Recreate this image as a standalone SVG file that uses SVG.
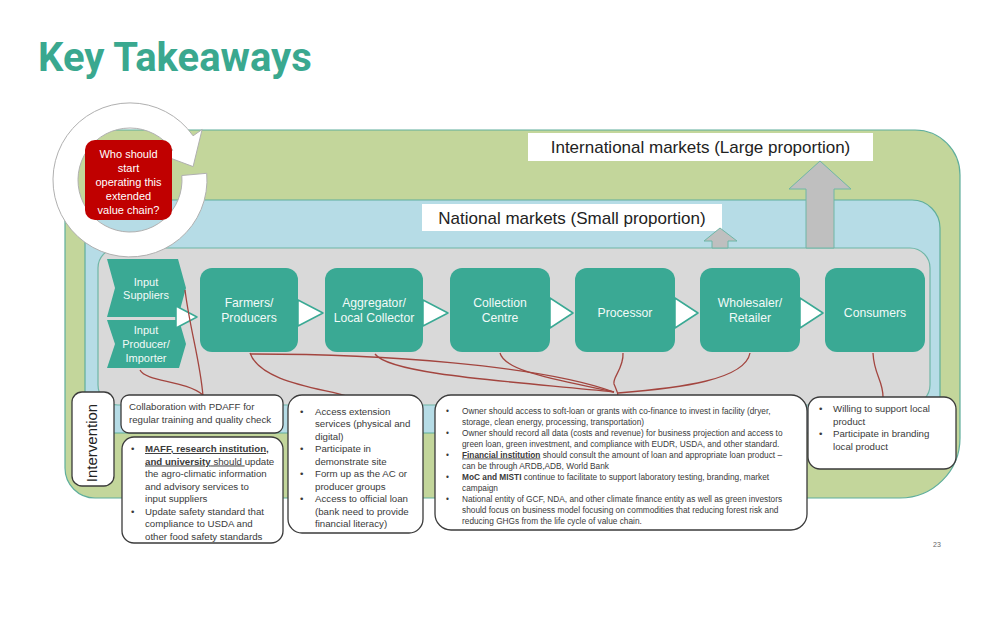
<svg xmlns="http://www.w3.org/2000/svg" width="998" height="619" viewBox="0 0 998 619">
<defs>
<style>
.title{font-family:Roboto,"Liberation Sans",sans-serif;font-weight:700;font-size:40px;fill:#3aa88f}
.node rect,.node polygon{fill:#3aa994}
.nt{font-family:"Liberation Sans",Arial,sans-serif;font-size:12.2px;fill:#f2faf8;text-anchor:middle}
.ct{font-family:"Liberation Sans",Arial,sans-serif;font-size:11px;fill:#f2faf8;text-anchor:middle}
.tri{fill:#ffffff;stroke:#3aa994;stroke-width:1.5;stroke-linejoin:round}
.box{fill:#ffffff;stroke:#3b3b3b;stroke-width:1.3}
.bt{font-family:"Liberation Sans",Arial,sans-serif;font-size:9.7px;fill:#3a3a3a}
.st{font-family:"Liberation Sans",Arial,sans-serif;font-size:8.3px;fill:#3a3a3a}
.lbl{font-family:"Liberation Sans",Arial,sans-serif;font-size:17px;fill:#222;text-anchor:middle}
.conn path{fill:none;stroke:#a3453f;stroke-width:1.3}
.garrow{fill:#bfbfbf;stroke:#6fb6a6;stroke-width:1}
.b{font-weight:700}
.u{text-decoration:underline}
</style>
</defs>
<rect width="998" height="619" fill="#ffffff"/>
<text class="title" x="38" y="71">Key Takeaways</text>

<g id="containers">
<path d="M95,130 H915 A45,45 0 0 1 960,175 V438 A60,60 0 0 1 900,498 H95 A30,30 0 0 1 65,468 V160 A30,30 0 0 1 95,130 Z" fill="#c3d69b" stroke="#5fae9c" stroke-width="1.2"/>
<rect x="85" y="200" width="855" height="233" rx="28" fill="#b6dce6" stroke="#5fae9c" stroke-width="1.2"/>
<rect x="98" y="248" width="832" height="157" rx="20" fill="#d9d9d9" stroke="#6fb6a6" stroke-width="1.2"/>
</g>

<g id="international-label">
<rect x="528" y="133" width="345" height="28" fill="#ffffff"/>
<text class="lbl" x="700.5" y="153">International markets (Large proportion)</text>
</g>
<g id="national-label">
<rect x="422" y="204" width="300" height="27" fill="#ffffff"/>
<text class="lbl" x="572" y="223.5">National markets (Small proportion)</text>
</g>
<g id="market-arrows">
<polygon class="garrow" points="806,248 806,189 789,189 820,161 851,189 834,189 834,248"/>
<polygon class="garrow" points="712,248 712,241 704,241 720,228 737,241 728,241 728,248"/>
</g>

<g id="cycle">
<path d="M206.7,173.3 A77,77 0 1 1 193.1,135.8 L202.1,129.5 L193.1,166.6 L164.4,155.9 L172.6,150.2 A52,52 0 1 0 181.8,175.5 Z" fill="#ffffff" stroke="#b0b0b0" stroke-width="1"/>
</g>
<g id="question">
<rect x="85" y="140" width="87" height="80" rx="10" fill="#c00000"/>
<g font-family="Liberation Sans, Arial, sans-serif" font-size="11" fill="#ffffff" text-anchor="middle">
<text x="128.5" y="158">Who should</text>
<text x="128.5" y="172">start</text>
<text x="128.5" y="186">operating this</text>
<text x="128.5" y="200">extended</text>
<text x="128.5" y="214">value chain?</text>
</g>
</g>

<g id="input-suppliers" class="node">
<polygon points="107,259 178,259 186,288 178,317 107,317 115,288"/>
<text class="ct" x="146" y="286">Input</text>
<text class="ct" x="146" y="299">Suppliers</text>
</g>
<g id="input-producer" class="node">
<polygon points="107,320 179,320 186,344 179,368 107,368 115,344"/>
<text class="ct" x="146" y="334">Input</text>
<text class="ct" x="146" y="348">Producer/</text>
<text class="ct" x="146" y="362">Importer</text>
</g>
<g id="farmers" class="node">
<rect x="200" y="268" width="98" height="84" rx="12"/>
<text class="nt" x="249" y="307">Farmers/</text>
<text class="nt" x="249" y="322">Producers</text>
</g>
<g id="aggregator" class="node">
<rect x="325" y="268" width="98" height="84" rx="12"/>
<text class="nt" x="374" y="307">Aggregator/</text>
<text class="nt" x="374" y="322">Local Collector</text>
</g>
<g id="collection" class="node">
<rect x="450" y="268" width="100" height="84" rx="12"/>
<text class="nt" x="500" y="307">Collection</text>
<text class="nt" x="500" y="322">Centre</text>
</g>
<g id="processor" class="node">
<rect x="575" y="268" width="100" height="84" rx="12"/>
<text class="nt" x="625" y="317">Processor</text>
</g>
<g id="wholesaler" class="node">
<rect x="700" y="268" width="100" height="84" rx="12"/>
<text class="nt" x="750" y="307">Wholesaler/</text>
<text class="nt" x="750" y="322">Retailer</text>
</g>
<g id="consumers" class="node">
<rect x="825" y="268" width="100" height="84" rx="12"/>
<text class="nt" x="875" y="317">Consumers</text>
</g>

<g id="chain-arrows">
<polygon class="tri" points="176,306 197,317 176,328"/>
<polygon class="tri" points="298,300 323,313 298,326"/>
<polygon class="tri" points="423,300 448,313 423,326"/>
<polygon class="tri" points="550,298 573,313 550,328"/>
<polygon class="tri" points="675,298 698,313 675,328"/>
<polygon class="tri" points="800,298 823,313 800,328"/>
</g>

<g id="connectors" class="conn">
<path d="M185,290 C190,330 200,360 203,396"/>
<path d="M140,370 C146,382 185,380 203,395"/>
<path d="M250,353 C260,382 320,388 347,396"/>
<path d="M250,354 C380,354 540,365 614,392"/>
<path d="M375,354 C390,375 520,382 614,392"/>
<path d="M500,353 C505,372 560,380 614,392"/>
<path d="M623,353 C624,368 612,378 614,384 C616,389 618,392 618,396"/>
<path d="M750,353 C745,380 680,388 618,393"/>
<path d="M873,353 C874,375 883,380 883,397"/>
</g>

<g id="intervention">
<rect class="box" x="72" y="392" width="42" height="94" rx="10"/>
<text x="0" y="0" transform="translate(96.5,443) rotate(-90)" font-family="Liberation Sans, Arial, sans-serif" font-size="15" fill="#222" text-anchor="middle">Intervention</text>
</g>

<g id="box-pdaff">
<rect class="box" x="121" y="395" width="162" height="38" rx="8"/>
<text class="bt" x="129" y="410">Collaboration with PDAFF for</text>
<text class="bt" x="129" y="422.5">regular training and quality check</text>
</g>

<g id="box-maff">
<rect class="box" x="122" y="437" width="161" height="106" rx="12"/>
<text class="bt" x="131" y="452">•</text>
<text class="bt" x="145" y="452"><tspan class="b u">MAFF, research institution,</tspan></text>
<text class="bt" x="145" y="464.5"><tspan class="b u">and university</tspan><tspan class="u"> should </tspan>update</text>
<text class="bt" x="145" y="477">the agro-climatic information</text>
<text class="bt" x="145" y="489.5">and advisory services to</text>
<text class="bt" x="145" y="502">input suppliers</text>
<text class="bt" x="131" y="514.5">•</text>
<text class="bt" x="145" y="514.5">Update safety standard that</text>
<text class="bt" x="145" y="527">compliance to USDA and</text>
<text class="bt" x="145" y="539.5">other food safety standards</text>
</g>

<g id="box-farmers">
<rect class="box" x="288" y="395" width="135" height="138" rx="14"/>
<text class="bt" x="300" y="414.5">•</text>
<text class="bt" x="315" y="414.5">Access extension</text>
<text class="bt" x="315" y="427">services (physical and</text>
<text class="bt" x="315" y="439.5">digital)</text>
<text class="bt" x="300" y="452">•</text>
<text class="bt" x="315" y="452">Participate in</text>
<text class="bt" x="315" y="464.5">demonstrate site</text>
<text class="bt" x="300" y="477">•</text>
<text class="bt" x="315" y="477">Form up as the AC or</text>
<text class="bt" x="315" y="489.5">producer groups</text>
<text class="bt" x="300" y="502">•</text>
<text class="bt" x="315" y="502">Access to official loan</text>
<text class="bt" x="315" y="514.5">(bank need to provide</text>
<text class="bt" x="315" y="527">financial literacy)</text>
</g>

<g id="box-facility">
<rect class="box" x="435" y="395" width="372" height="135" rx="16"/>
<text class="st" x="446" y="413.5">•</text>
<text class="st" x="462" y="413.5">Owner should access to soft-loan or grants with co-finance to invest in facility (dryer,</text>
<text class="st" x="462" y="424.5">storage, clean energy, processing, transportation)</text>
<text class="st" x="446" y="435.5">•</text>
<text class="st" x="462" y="435.5">Owner should record all data (costs and revenue) for business projection and access to</text>
<text class="st" x="462" y="446.5">green loan, green investment, and compliance with EUDR, USDA, and other standard.</text>
<text class="st" x="446" y="457.5">•</text>
<text class="st" x="462" y="457.5"><tspan class="b u">Financial institution</tspan> should consult the amount of loan and appropriate loan product –</text>
<text class="st" x="462" y="468.5">can be through ARDB,ADB, World Bank</text>
<text class="st" x="446" y="479.5">•</text>
<text class="st" x="462" y="479.5"><tspan class="b">MoC and MISTI</tspan> continue to facilitate to support laboratory testing, branding, market</text>
<text class="st" x="462" y="490.5">campaign</text>
<text class="st" x="446" y="501.5">•</text>
<text class="st" x="462" y="501.5">National entity of GCF, NDA, and other climate finance entity as well as green investors</text>
<text class="st" x="462" y="512.5">should focus on business model focusing on commodities that reducing forest risk and</text>
<text class="st" x="462" y="523.5">reducing GHGs from the life cycle of value chain.</text>
</g>

<g id="box-consumers">
<rect class="box" x="808" y="397" width="148" height="72" rx="12"/>
<text class="bt" x="819" y="412">•</text>
<text class="bt" x="833" y="412">Willing to support local</text>
<text class="bt" x="833" y="424.5">product</text>
<text class="bt" x="819" y="437">•</text>
<text class="bt" x="833" y="437">Participate in branding</text>
<text class="bt" x="833" y="449.5">local product</text>
</g>

<text x="933" y="547" font-family="Liberation Sans, Arial, sans-serif" font-size="7" fill="#666">23</text>
</svg>
